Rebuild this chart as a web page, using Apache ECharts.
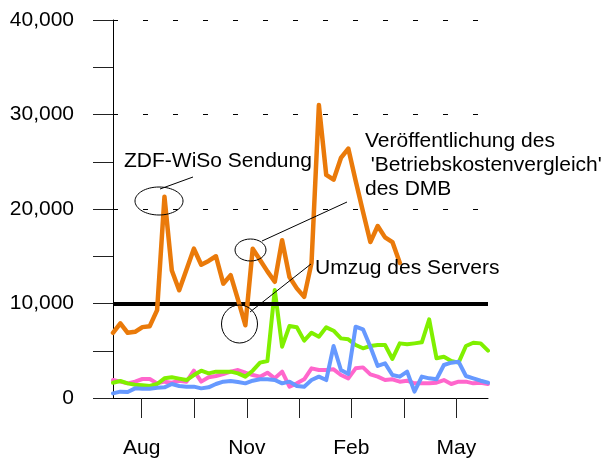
<!DOCTYPE html>
<html>
<head>
<meta charset="utf-8">
<script src="https://cdn.jsdelivr.net/npm/echarts@6/dist/echarts.min.js"></script>
<style>
  html, body { margin: 0; padding: 0; background: #fff; }
</style>
</head>
<body>
<div id="chart" style="width:606px;height:461px"></div>
<script>
  // wöchentliche Werte (Index = Woche)
  const orange = [6900, 7900, 6900, 7000, 7500, 7600, 9300, 21300, 13500, 11400,
    13600, 15800, 14100, 14500, 15000, 12100, 13000, 10400, 7700, 15800,
    14600, 13400, 12300, 16700, 12800, 11600, 10700, 14300, 31000, 23600,
    23100, 25400, 26400, 23000, 19700, 16500, 18200, 17000, 16500, 14300];
  const green = [1620, 1800, 1550, 1410, 1340, 1270, 1480, 2080, 2190, 2050,
    1900, 2430, 2890, 2610, 2790, 2790, 2790, 2610, 2260, 2890,
    3740, 3910, 11430, 5430, 7620, 7480, 6070, 6910, 6490, 7480,
    7120, 6310, 6210, 5610, 5260, 5500, 5610, 5610, 4130, 5780,
    5680, 5780, 5890, 8320, 4200, 4370, 3910, 3740, 5500, 5850,
    5780, 5010];
  const blue = [490, 670, 630, 1020, 990, 990, 1090, 1130, 1480, 1270,
    1200, 1200, 1020, 1130, 1480, 1730, 1800, 1690, 1550, 1830,
    1980, 1980, 1900, 1550, 1730, 1270, 1200, 1900, 2260, 1900,
    5500, 2960, 2540, 7550, 7270, 5430, 3390, 3670, 2430, 2260,
    2790, 670, 2260, 2080, 1980, 3490, 3740, 3840, 2330, 2080,
    1830, 1620];
  const pink = [1900, 1730, 1550, 1730, 2010, 2010, 1550, 1730, 1620, 1830,
    1730, 2890, 1730, 2190, 2330, 2540, 2790, 2960, 2680, 2430,
    2260, 2680, 2080, 2790, 1200, 1550, 1980, 3140, 2960, 2960,
    3030, 2430, 2080, 3140, 3240, 2500, 2260, 1900, 1980, 1730,
    1830, 1550, 1550, 1550, 1620, 1900, 1480, 1730, 1730, 1550,
    1620, 1480];
  const threshold = 10000;

  // Achsenbeschriftung (Position in Wochen)
  const tickWeeks = [3.9, 11.1, 18.2, 25.3, 32.4, 39.6, 46.7];
  const labelWeeks = [3.9, 18.2, 32.4, 46.7];
  const monthLabels = ['Aug', 'Nov', 'Feb', 'May'];

  const FONT = "'Liberation Sans', Arial, sans-serif";
  const toPairs = arr => arr.map((v, i) => [i, v]);
  const fmtNum = v => String(v).replace(/\B(?=(\d{3})+(?!\d))/g, ',');

  const myChart = echarts.init(document.getElementById('chart'), null, {renderer: 'canvas'});

  const lineSeries = (name, data, color, width, z) => ({
    name: name,
    type: 'line',
    data: toPairs(data),
    showSymbol: false,
    symbol: 'none',
    z: z,
    lineStyle: {color: color, width: width, join: 'round', cap: 'round'},
    itemStyle: {color: color}
  });

  const annoFont = '21px ' + FONT;

  const option = {
    animation: false,
    backgroundColor: '#fff',
    textStyle: {fontFamily: FONT},
    grid: {left: 113, right: 118, top: 20, bottom: 63},
    xAxis: {
      type: 'value',
      min: 0,
      max: 51,
      axisLine: {lineStyle: {color: '#000', width: 1}},
      axisTick: {
        show: true, length: 20, inside: false,
        customValues: tickWeeks,
        lineStyle: {color: '#222', width: 1}
      },
      axisLabel: {
        customValues: labelWeeks,
        margin: 40,
        fontSize: 21,
        color: '#000',
        fontFamily: FONT,
        formatter: function (v) {
          let k = labelWeeks.findIndex(w => Math.abs(w - v) < 0.05);
          return k >= 0 ? monthLabels[k] : '';
        }
      },
      splitLine: {show: false}
    },
    yAxis: {
      type: 'value',
      min: 0,
      max: 40000,
      interval: 10000,
      axisLine: {show: true, lineStyle: {color: '#000', width: 1}},
      axisTick: {show: true, length: 20, inside: false, lineStyle: {color: '#222', width: 1}},
      minorTick: {show: true, splitNumber: 2, length: 20, lineStyle: {color: '#222', width: 1}},
      axisLabel: {
        margin: 39,
        fontSize: 21,
        color: '#000',
        fontFamily: FONT,
        formatter: fmtNum
      },
      splitLine: {
        show: true,
        lineStyle: {color: '#000', width: 1, type: [5, 25], dashOffset: 0}
      }
    },
    series: [
      {
        name: 'Grenze',
        type: 'line',
        data: [],
        z: 1,
        markLine: {
          silent: true,
          symbol: 'none',
          label: {show: false},
          lineStyle: {color: '#000', width: 4, type: 'solid'},
          data: [{yAxis: threshold}]
        }
      },
      lineSeries('orange', orange, '#EA7A0A', 4.5, 5),
      lineSeries('green', green, '#80F000', 4, 3),
      lineSeries('blue', blue, '#6699FF', 4, 4),
      lineSeries('pink', pink, '#FF66CC', 4, 2)
    ],
    graphic: [
      // ZDF-WiSo
      {type: 'ellipse', shape: {cx: 159, cy: 201, rx: 24, ry: 14}, style: {fill: 'none', stroke: '#000', lineWidth: 1}, z: 10},
      {type: 'line', shape: {x1: 160, y1: 189, x2: 193, y2: 177}, style: {stroke: '#000', lineWidth: 1}, z: 10},
      {type: 'text', x: 124, y: 161, style: {text: 'ZDF-WiSo Sendung', font: annoFont, fill: '#000', verticalAlign: 'middle'}, z: 10},
      // Veröffentlichung
      {type: 'ellipse', shape: {cx: 250.5, cy: 250, rx: 15.5, ry: 11}, style: {fill: 'none', stroke: '#000', lineWidth: 1}, z: 10},
      {type: 'line', shape: {x1: 262, y1: 241, x2: 347, y2: 202}, style: {stroke: '#000', lineWidth: 1}, z: 10},
      {type: 'text', x: 365, y: 141, style: {text: 'Veröffentlichung des', font: annoFont, fill: '#000', verticalAlign: 'middle'}, z: 10},
      {type: 'text', x: 365, y: 165, style: {text: " 'Betriebskostenvergleich'", font: annoFont, fill: '#000', verticalAlign: 'middle'}, z: 10},
      {type: 'text', x: 365, y: 189, style: {text: 'des DMB', font: annoFont, fill: '#000', verticalAlign: 'middle'}, z: 10},
      // Umzug
      {type: 'ellipse', shape: {cx: 239.5, cy: 324, rx: 18, ry: 19}, style: {fill: 'none', stroke: '#000', lineWidth: 1}, z: 10},
      {type: 'line', shape: {x1: 250, y1: 312, x2: 311, y2: 264}, style: {stroke: '#000', lineWidth: 1}, z: 10},
      {type: 'text', x: 315, y: 268, style: {text: 'Umzug des Servers', font: annoFont, fill: '#000', verticalAlign: 'middle'}, z: 10}
    ]
  };

  myChart.setOption(option);
</script>
</body>
</html>
